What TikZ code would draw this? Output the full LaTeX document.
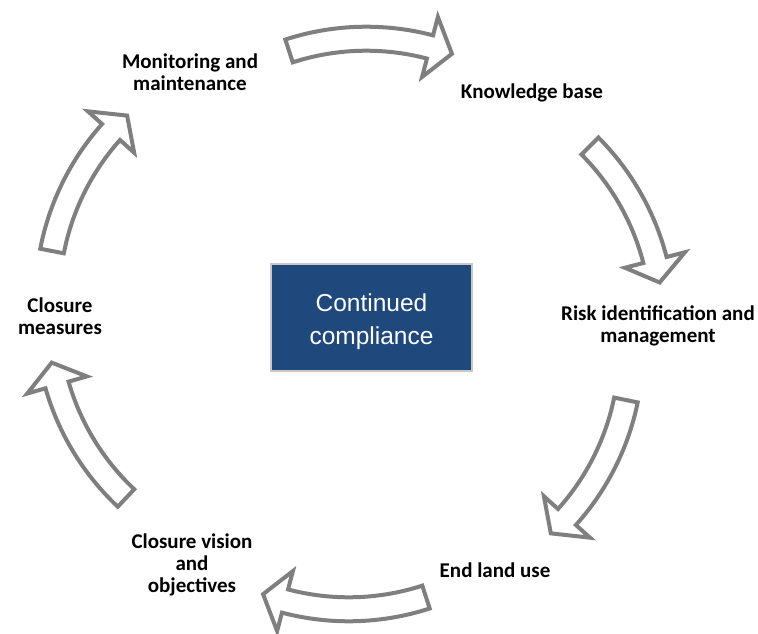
\documentclass[tikz,border=0pt]{standalone}
\usepackage{fontspec}
\setmainfont{Carlito}
\newfontfamily\boxfont{Liberation Sans}
\usetikzlibrary{calc}

\definecolor{arrowgray}{HTML}{7F7F7F}
\definecolor{boxblue}{HTML}{1F497D}
\definecolor{boxedge}{HTML}{C8C8C8}

% radius of every curved block arrow, and the angle taken by its head
\newcommand\arcr{250}
\newcommand\headang{5.27}

% curved block arrow: #1,#2 centre of its arc, #3 tail angle, #4 angle of the head base
\newcommand\cyclearrow[4]{%
  \begin{scope}[shift={(#1,#2)}]
    \draw[blockarrow]
      (#3:\arcr-12) arc[start angle=#3, end angle=#4, radius=\arcr-12]
      -- (#4:\arcr-31) -- ({#4+\headang}:\arcr) -- (#4:\arcr+31)
      -- (#4:\arcr+12) arc[start angle=#4, end angle=#3, radius=\arcr+12]
      -- cycle;
  \end{scope}}

\begin{document}
\begin{tikzpicture}[x=1pt, y=-1pt,
  blockarrow/.style={draw=arrowgray, fill=white, line width=4pt, line join=miter},
  steplabel/.style={align=center, font=\fontsize{21}{22.3}\selectfont\bfseries, inner sep=0pt},
  centrebox/.style={draw=boxedge, line width=2pt, fill=boxblue,
    minimum width=201pt, minimum height=107pt},
  centretext/.style={text=white, align=center, inner sep=0pt,
    font=\boxfont\fontsize{24.5}{33.5}\selectfont}]

  \useasboundingbox (0,0) rectangle (758,634);

  % the six arrows of the cycle, clockwise from the top
  \cyclearrow{366.3}{288.7}{252.0}{284.76}
  \cyclearrow{412.9}{322.5}{315.09}{345.52}
  \cyclearrow{381.0}{349.9}{11.56}{41.94}
  \cyclearrow{348.7}{359.3}{71.99}{104.76}
  \cyclearrow{297.3}{315.9}{133.25}{163.96}
  \cyclearrow{297.5}{298.5}{190.95}{221.76}

  % centre
  \node[centrebox] (centre) at (371.5,317.5) {};
  \node[centretext] (centrelabel) at (371.5,321.5) {Continued\\compliance};

  % stages
  \node[steplabel] (knowledge) at (532,93) {Knowledge base};
  \node[steplabel] (risk) at (658,326) {Risk identification and\\management};
  \node[steplabel] (landuse) at (495,570) {End land use};
  \node[steplabel] (vision) at (192,565) {Closure vision\\and\\objectives};
  \node[steplabel] (measures) at (60,316) {Closure\\measures};
  \node[steplabel] (monitoring) at (190,72) {Monitoring and\\maintenance};
\end{tikzpicture}
\end{document}
